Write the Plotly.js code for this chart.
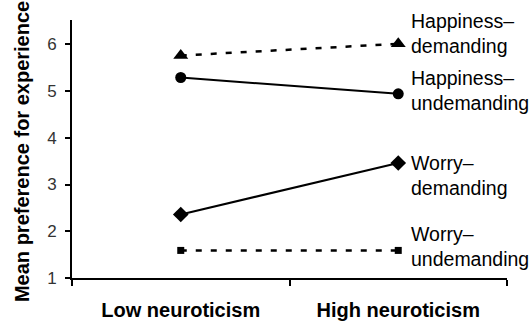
<!DOCTYPE html>
<html>
<head>
<meta charset="utf-8">
<script src="https://cdn.plot.ly/plotly-3.0.1.min.js"></script>
<style>html,body{margin:0;padding:0;background:#fff;}#chart{width:532px;height:323px;}</style>
</head>
<body>
<div id="chart"></div>
<script>
var categories = ["Low neuroticism", "High neuroticism"];
var seriesNames = ["Happiness–<br>demanding", "Happiness–<br>undemanding", "Worry–<br>demanding", "Worry–<br>undemanding"];
var happinessDemanding = [5.76, 6.01];
var happinessUndemanding = [5.29, 4.94];
var worryDemanding = [2.36, 3.46];
var worryUndemanding = [1.59, 1.59];
var yTickVals = [1, 2, 3, 4, 5, 6];
var yTitle = "Mean preference for experience";

var FONT = "Liberation Sans, Arial, sans-serif";
var allValues = [happinessDemanding, happinessUndemanding, worryDemanding, worryUndemanding];
var styles = [
  {dash: "6px,9px", width: 2.5, symbol: "triangle-up", size: 13},
  {dash: "solid", width: 2, symbol: "circle", size: 11},
  {dash: "solid", width: 2, symbol: "diamond", size: 12},
  {dash: "6px,9px", width: 2.5, symbol: "square", size: 7}
];
var labelShift = [10, 3, -12, 4];

var traces = allValues.map(function (vals, i) {
  return {
    x: categories, y: vals, type: "scatter", mode: "lines+markers",
    line: {color: "#000", width: styles[i].width, dash: styles[i].dash},
    marker: {color: "#000", symbol: styles[i].symbol, size: styles[i].size},
    showlegend: false, hoverinfo: "skip"
  };
});

var annotations = allValues.map(function (vals, i) {
  return {
    x: categories[1], y: vals[1], xref: "x", yref: "y",
    text: seriesNames[i], showarrow: false, xanchor: "left", yanchor: "middle",
    align: "left", xshift: 11, yshift: labelShift[i],
    font: {family: FONT, size: 19.5, color: "#000"}
  };
});
annotations.push({
  text: yTitle, xref: "paper", yref: "paper", x: -0.115, y: 0.492,
  xanchor: "center", yanchor: "middle", textangle: -90, showarrow: false,
  font: {family: FONT, size: 20, color: "#000", weight: "bold"}
});

var layout = {
  width: 532, height: 323,
  margin: {l: 72, r: 25, t: 20, b: 45, pad: 0},
  paper_bgcolor: "#fff", plot_bgcolor: "#fff",
  font: {family: FONT, color: "#000"},
  xaxis: {
    type: "category", range: [-0.5, 1.5], tickson: "boundaries",
    showline: true, linecolor: "#000", linewidth: 2, showgrid: false, zeroline: false,
    ticks: "outside", ticklen: 6, tickwidth: 2, tickcolor: "#000",
    tickfont: {family: FONT, size: 20, color: "#000", weight: "bold"},
    ticklabelstandoff: 13, fixedrange: true
  },
  yaxis: {
    range: [1, 6.52], tickvals: yTickVals,
    showline: true, linecolor: "#000", linewidth: 2, showgrid: false, zeroline: false,
    ticks: "outside", ticklen: 5, tickwidth: 2, tickcolor: "#000",
    tickfont: {family: FONT, size: 17, color: "#333"},
    ticklabelstandoff: 5,
    fixedrange: true
  },
  annotations: annotations
};

Plotly.newPlot("chart", traces, layout, {displayModeBar: false, staticPlot: true});
</script>
</body>
</html>
